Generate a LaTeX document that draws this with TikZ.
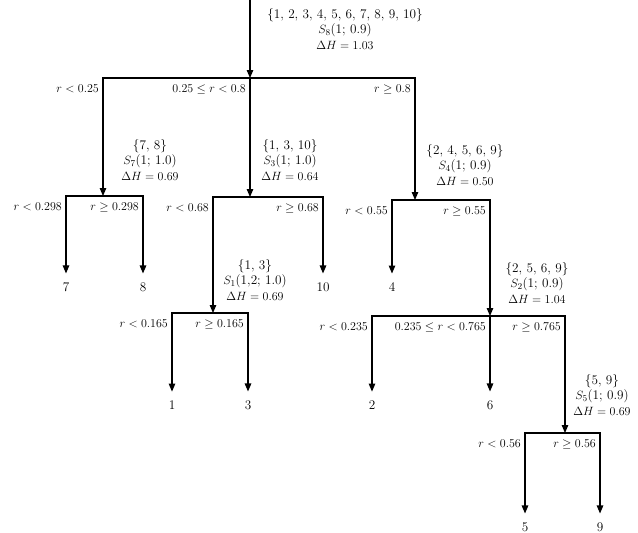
\documentclass[tikz,border=0pt]{standalone}
\usepackage{tikz}
\usetikzlibrary{positioning, arrows.meta, calc}

\begin{document}
\begin{tikzpicture}[x=1pt, y=-1pt,
    every node/.style={font=\fontsize{13.2}{15.5}\selectfont},
    info/.style={align=center, inner sep=0pt},
    leaf/.style={inner sep=0pt, outer sep=9pt},
    cond/.style={anchor=north east, inner sep=0pt},
    arr/.style={-{Triangle[length=8pt, width=6.5pt]}, line width=1.1pt},
  ]
  \useasboundingbox (0,0) rectangle (638,533);

  % Root split S8
  \coordinate (top) at (250,0);
  \coordinate (s8) at (250,78);
  \node[info] (s8info) at (345,29) {\{1, 2, 3, 4, 5, 6, 7, 8, 9, 10\}\\$S_8$(1; 0.9)\\$\Delta H = 1.03$};

  % Second level splits
  \coordinate (s7) at (103,196);
  \coordinate (s3) at (250,197);
  \coordinate (s4) at (415,200);
  \node[info] (s7info) at (150,160) {\{7, 8\}\\$S_7$(1; 1.0)\\$\Delta H = 0.69$};
  \node[info] (s3info) at (290,160) {\{1, 3, 10\}\\$S_3$(1; 1.0)\\$\Delta H = 0.64$};
  \node[info] (s4info) at (465,165) {\{2, 4, 5, 6, 9\}\\$S_4$(1; 0.9)\\$\Delta H = 0.50$};

  % Deeper splits
  \coordinate (s1) at (213,313);
  \coordinate (s2) at (490,316);
  \coordinate (s5) at (565,433);
  \node[info] (s1info) at (255,280) {\{1, 3\}\\$S_1$(1,2; 1.0)\\$\Delta H = 0.69$};
  \node[info] (s2info) at (537,283) {\{2, 5, 6, 9\}\\$S_2$(1; 0.9)\\$\Delta H = 1.04$};
  \node[info] (s5info) at (602,395) {\{5, 9\}\\$S_5$(1; 0.9)\\$\Delta H = 0.69$};

  % Leaves
  \node[leaf] (l7)  at (66,287)  {7};
  \node[leaf] (l8)  at (143,287) {8};
  \node[leaf] (l10) at (323,287) {10};
  \node[leaf] (l4)  at (392,287) {4};
  \node[leaf] (l1)  at (172,405) {1};
  \node[leaf] (l3)  at (248,405) {3};
  \node[leaf] (l2)  at (372,405) {2};
  \node[leaf] (l6)  at (490,405) {6};
  \node[leaf] (l5)  at (525,527) {5};
  \node[leaf] (l9)  at (600,527) {9};

  % Branches
  \draw[arr] (top) -- (s8);
  \draw[arr] (s8) -| (s7);
  \draw[arr] (s8) -- (s3);
  \draw[arr] (s8) -| (s4);
  \draw[arr] (s7) -| (l7.north);
  \draw[arr] (s7) -| (l8.north);
  \draw[arr] (s3) -| (s1);
  \draw[arr] (s3) -| (l10.north);
  \draw[arr] (s1) -| (l1.north);
  \draw[arr] (s1) -| (l3.north);
  \draw[arr] (s4) -| (l4.north);
  \draw[arr] (s4) -| (s2);
  \draw[arr] (s2) -| (l2.north);
  \draw[arr] (s2) -- (l6.north);
  \draw[arr] (s2) -| (s5);
  \draw[arr] (s5) -| (l5.north);
  \draw[arr] (s5) -| (l9.north);

  % Conditions, left of each child line
  \node[cond] (c8a) at ($(s8 -| s7)+(-4pt,-7pt)$) {$r < 0.25$};
  \node[cond] (c8b) at ($(s8)+(-4pt,-7pt)$) {$0.25 \le r < 0.8$};
  \node[cond] (c8c) at ($(s8 -| s4)+(-4pt,-7pt)$) {$r \ge 0.8$};
  \node[cond] (c7a) at ($(s7 -| l7)+(-4pt,-7pt)$) {$r < 0.298$};
  \node[cond] (c7b) at ($(s7 -| l8)+(-4pt,-7pt)$) {$r \ge 0.298$};
  \node[cond] (c3a) at ($(s3 -| s1)+(-4pt,-7pt)$) {$r < 0.68$};
  \node[cond] (c3b) at ($(s3 -| l10)+(-4pt,-7pt)$) {$r \ge 0.68$};
  \node[cond] (c1a) at ($(s1 -| l1)+(-4pt,-7pt)$) {$r < 0.165$};
  \node[cond] (c1b) at ($(s1 -| l3)+(-4pt,-7pt)$) {$r \ge 0.165$};
  \node[cond] (c4a) at ($(s4 -| l4)+(-4pt,-7pt)$) {$r < 0.55$};
  \node[cond] (c4b) at ($(s4 -| s2)+(-4pt,-7pt)$) {$r \ge 0.55$};
  \node[cond] (c2a) at ($(s2 -| l2)+(-4pt,-7pt)$) {$r < 0.235$};
  \node[cond] (c2b) at ($(s2)+(-4pt,-7pt)$) {$0.235 \le r < 0.765$};
  \node[cond] (c2c) at ($(s2 -| s5)+(-4pt,-7pt)$) {$r \ge 0.765$};
  \node[cond] (c5a) at ($(s5 -| l5)+(-4pt,-7pt)$) {$r < 0.56$};
  \node[cond] (c5b) at ($(s5 -| l9)+(-4pt,-7pt)$) {$r \ge 0.56$};
\end{tikzpicture}
\end{document}
